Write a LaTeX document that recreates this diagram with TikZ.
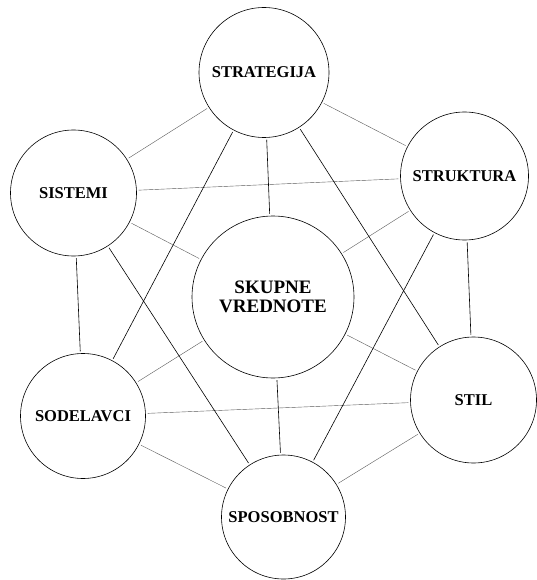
\documentclass[tikz,border=0pt]{standalone}
\usepackage{fontspec}
\setmainfont{Liberation Serif}
\begin{document}
\begin{tikzpicture}[x=1pt,y=-1pt,
  vnode/.style={circle,draw,line width=0.6pt,inner sep=0pt,font=\bfseries\fontsize{16.5}{18}\selectfont},
  bignode/.style={vnode,align=center,font=\bfseries\fontsize{19}{21}\selectfont},
  dark/.style={line width=0.6pt,shorten <=2pt,shorten >=2pt},
  light/.style={line width=0.4pt,black!65,shorten <=2pt,shorten >=2pt}]
\useasboundingbox (0,0) rectangle (537,580);
\node[vnode,minimum size=130pt] (strat) at (264,72.5) {STRATEGIJA};
\node[vnode,minimum size=126pt] (sist) at (73.5,193) {SISTEMI};
\node[vnode,minimum size=128pt] (struk) at (464.5,176) {STRUKTURA};
\node[bignode,minimum size=162pt] (skup) at (273,297) {SKUPNE\\[-2pt]VREDNOTE};
\node[vnode,minimum size=125pt] (sod) at (83,416) {SODELAVCI};
\node[vnode,minimum size=126pt] (stil) at (473.5,400) {STIL};
\node[vnode,minimum size=124pt] (spos) at (283.5,517) {SPOSOBNOST};
% light connectors
\draw[light] (strat) -- (sist);
\draw[light] (strat) -- (struk);
\draw[light] (sist) -- (struk);
\draw[light] (sist) -- (skup);
\draw[light] (struk) -- (skup);
\draw[light] (skup) -- (sod);
\draw[light] (skup) -- (stil);
\draw[light] (sod) -- (stil);
\draw[light] (sod) -- (spos);
\draw[light] (stil) -- (spos);
% dark connectors
\draw[dark] (strat) -- (skup);
\draw[dark] (strat) -- (sod);
\draw[dark] (strat) -- (stil);
\draw[dark] (sist) -- (sod);
\draw[dark] (sist) -- (spos);
\draw[dark] (struk) -- (stil);
\draw[dark] (struk) -- (spos);
\draw[dark] (skup) -- (spos);
\end{tikzpicture}
\end{document}
